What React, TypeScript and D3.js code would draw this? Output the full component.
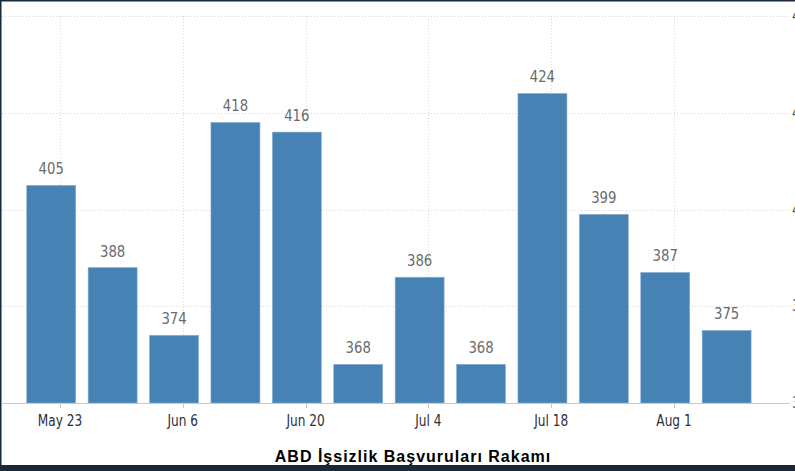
import React from "react";
import * as d3 from "d3";

// weekly claims, thousands (week ending Saturday)
const weekEnding = [
  "2021-05-22", "2021-05-29", "2021-06-05", "2021-06-12", "2021-06-19", "2021-06-26",
  "2021-07-03", "2021-07-10", "2021-07-17", "2021-07-24", "2021-07-31", "2021-08-07",
];
const claims = [405, 388, 374, 418, 416, 368, 386, 368, 424, 399, 387, 375];

const xTickDates = ["2021-05-23", "2021-06-06", "2021-06-20", "2021-07-04", "2021-07-18", "2021-08-01"];
const yTicks = [360, 380, 400, 420, 440];

const title = "ABD İşsizlik Başvuruları Rakamı";

const W = 795;
const H = 471;
const narrow = "'DejaVu Sans Condensed', 'Liberation Sans Narrow', sans-serif";

export default function App() {
  const parse = d3.utcParse("%Y-%m-%d");
  const fmt = d3.utcFormat("%b %-d");

  const x = d3
    .scaleUtc()
    .domain([parse("2021-05-23")!, parse("2021-08-01")!])
    .range([60, 674]);

  const y = d3.scaleLinear().domain([360, 440]).range([403, 16]);

  const barW = 49;
  const data = weekEnding.map((d, i) => ({ date: parse(d)!, value: claims[i] }));
  const ticks = xTickDates.map((d) => parse(d)!);

  return (
    <svg
      width={W}
      height={H}
      style={{ position: "absolute", left: 0, top: 0, background: "#fff" }}
    >
      {/* grid */}
      <g stroke="#d6d6d6" strokeDasharray="1,2" strokeWidth={1}>
        {yTicks.map((t) => (
          <line key={t} x1={2} x2={790} y1={Math.round(y(t)) + 0.5} y2={Math.round(y(t)) + 0.5} />
        ))}
        {ticks.map((t, i) => (
          <line key={i} x1={Math.round(x(t)) + 0.5} x2={Math.round(x(t)) + 0.5} y1={y(440)} y2={y(360)} />
        ))}
      </g>

      {/* bars */}
      {data.map((d, i) => (
        <g key={i}>
          <rect
            x={x(d.date) - barW / 2}
            y={y(d.value)}
            width={barW}
            height={y(360) - y(d.value)}
            fill="#4682b4"
            stroke="#8fb1d0"
            strokeWidth={0.6}
          />
          <text
            x={x(d.date)}
            y={y(d.value) - 11}
            textAnchor="middle"
            fontFamily={narrow}
            fontSize={16}
            fill="#6b6b6b"
            transform={`translate(${x(d.date)},0) scale(0.92,1) translate(${-x(d.date)},0)`}
          >
            {d.value}
          </text>
        </g>
      ))}

      {/* x axis */}
      <line x1={2} x2={790} y1={403.5} y2={403.5} stroke="#c8c8c8" />
      {ticks.map((t, i) => (
        <g key={i}>
          <line x1={Math.round(x(t)) + 0.5} x2={Math.round(x(t)) + 0.5} y1={403} y2={408} stroke="#c8c8c8" />
          <text
            x={x(t)}
            y={426}
            textAnchor="middle"
            fontFamily={narrow}
            fontSize={15}
            fill="#2a2f3a"
            transform={`translate(${x(t)},0) scale(0.9,1) translate(${-x(t)},0)`}
          >
            {fmt(t)}
          </text>
        </g>
      ))}

      {/* right axis labels, clipped at the window edge as in the source */}
      {yTicks.map((t) => (
        <text
          key={t}
          x={792}
          y={y(t) + 5}
          fontFamily={narrow}
          fontSize={15}
          fill="#555"
        >
          {t}
        </text>
      ))}

      {/* title */}
      <text
        x={413}
        y={462}
        textAnchor="middle"
        fontFamily="'Liberation Sans', Arial, sans-serif"
        fontWeight="bold"
        fontSize={16}
        letterSpacing={1}
        fill="#000"
      >
        {title}
      </text>

      {/* frame */}
      <rect x={0} y={0} width={W} height={1.5} fill="#17293a" />
      <rect x={0} y={0} width={1.5} height={H} fill="#17293a" />
      <rect x={0} y={465} width={W} height={H - 465} fill="#17293a" />
    </svg>
  );
}
